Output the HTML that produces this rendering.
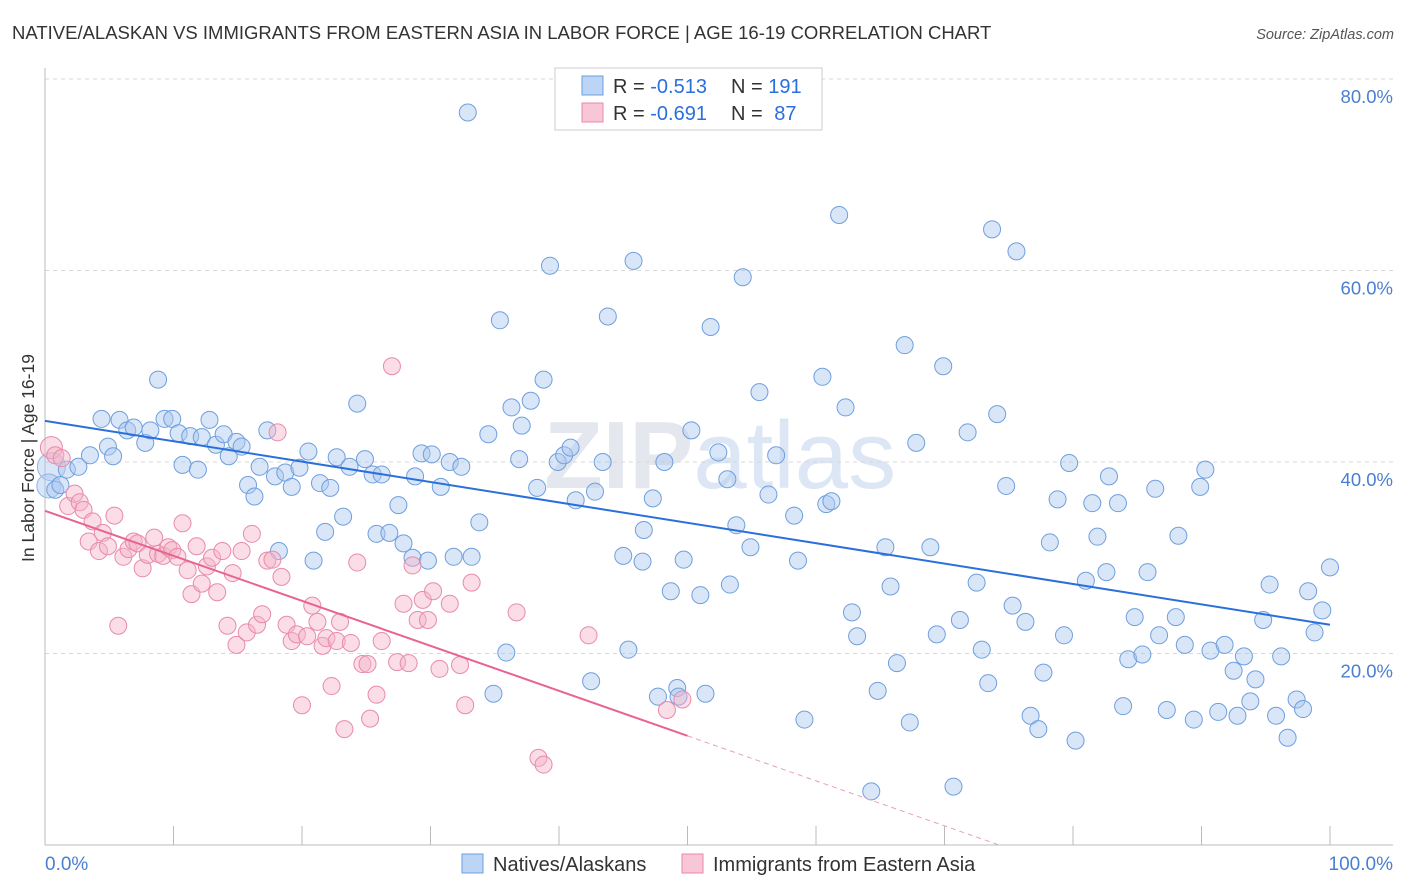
<!DOCTYPE html>
<html><head><meta charset="utf-8"><style>
body{margin:0;background:#fff;font-family:"Liberation Sans",sans-serif;}
svg{display:block}
</style></head><body>
<svg id="chart" width="1406" height="892" xmlns="http://www.w3.org/2000/svg">
<text x="12" y="39" font-size="18.5" fill="#333">NATIVE/ALASKAN VS IMMIGRANTS FROM EASTERN ASIA IN LABOR FORCE | AGE 16-19 CORRELATION CHART</text>
<text x="1394" y="39" font-size="14.5" fill="#555" font-style="italic" text-anchor="end">Source: ZipAtlas.com</text>
<text x="720" y="488" font-size="96" fill="#e4e8ee" text-anchor="middle" font-weight="bold">ZIP<tspan font-weight="normal" fill="#dce6f4">atlas</tspan></text>
<g id="grid"></g><g id="axes"></g><g id="marks"></g><g id="lines"></g>
<text transform="translate(34,458) rotate(-90)" font-size="17.5" fill="#333" text-anchor="middle">In Labor Force | Age 16-19</text>
<text x="45" y="870" font-size="19" fill="#4a7fd0">0.0%</text>
<text x="1393" y="870" font-size="19" fill="#4a7fd0" text-anchor="end">100.0%</text>
<g>
<rect x="555" y="68" width="267" height="62" fill="#fff" stroke="#ccc"/>
<rect x="582" y="76" width="21" height="19" fill="#bcd4f5" stroke="#6b9fde"/>
<rect x="582" y="103" width="21" height="19" fill="#f8c6d6" stroke="#e88aab"/>
<text x="613" y="93" font-size="20" fill="#333">R = <tspan fill="#2a6fdb">-0.513</tspan><tspan x="731">N = </tspan><tspan fill="#2a6fdb">191</tspan></text>
<text x="613" y="120" font-size="20" fill="#333">R = <tspan fill="#2a6fdb">-0.691</tspan><tspan x="731">N = </tspan><tspan fill="#2a6fdb" dx="6">87</tspan></text>
</g>
<g>
<rect x="462" y="854" width="21" height="19" fill="#bcd4f5" stroke="#6b9fde"/>
<text x="493" y="871" font-size="20" fill="#333">Natives/Alaskans</text>
<rect x="682" y="854" width="21" height="19" fill="#f8c6d6" stroke="#e88aab"/>
<text x="713" y="871" font-size="20" fill="#333">Immigrants from Eastern Asia</text>
</g>
</svg>
<script>
const yTicks=[20,40,60,80];
const yTickLabels=["20.0%","40.0%","60.0%","80.0%"];
const xTicks=[0,10,20,30,40,50,60,70,80,90,100];
const blueX=[32.9,0.8,1.2,1.7,2.6,3.5,4.4,4.9,5.3,5.8,6.4,6.9,7.8,8.2,8.8,9.3,9.9,10.4,10.7,11.3,11.9,12.2,12.8,13.3,13.9,14.3,14.9,15.3,15.8,16.3,16.7,17.3,17.9,18.2,18.7,19.2,19.8,20.5,20.9,21.4,22.2,21.8,22.7,23.2,23.7,24.3,24.9,25.5,25.8,26.2,26.8,27.5,27.9,28.6,28.8,29.3,29.8,30.1,30.8,31.5,31.8,32.4,33.2,33.8,34.5,34.9,35.4,35.9,36.3,36.9,37.1,37.8,38.3,38.8,39.3,39.9,40.4,40.9,41.3,42.5,42.8,43.4,43.8,45.0,45.4,45.8,46.6,46.5,47.3,47.7,48.2,48.7,49.2,49.3,49.7,50.3,51.0,51.4,51.8,52.4,53.1,53.3,53.8,54.3,54.9,55.6,56.3,56.9,58.6,58.3,59.1,60.5,60.8,61.2,61.8,62.3,62.8,63.2,64.3,64.8,65.4,65.8,66.3,66.9,67.3,67.8,68.9,69.4,69.9,70.7,71.2,71.8,72.5,72.9,73.4,73.7,74.1,74.8,75.3,75.6,76.3,76.7,77.3,77.7,78.2,78.8,79.3,79.7,80.2,81.0,81.5,81.9,82.6,82.8,83.5,83.9,84.3,84.8,85.4,85.8,86.4,86.7,87.3,88.0,88.2,88.7,89.4,89.9,90.3,90.7,91.3,91.8,92.5,92.8,93.3,93.8,94.2,94.8,95.3,95.8,96.2,96.7,97.4,97.9,98.3,98.8,99.4,100];
const blueY=[76.5,37.1,37.6,39.2,39.5,40.7,44.5,41.6,40.6,44.4,43.3,43.6,42.0,43.3,48.6,44.5,44.5,43.0,39.7,42.7,39.2,42.6,44.4,41.8,42.9,40.6,42.1,41.6,37.6,36.4,39.5,43.3,38.5,30.7,38.9,37.4,39.4,41.1,29.7,37.8,37.3,32.7,40.5,34.3,39.5,46.1,40.3,38.7,32.5,38.7,32.6,35.5,31.5,30.0,38.5,40.9,29.7,40.8,37.4,40.0,30.1,39.5,30.1,33.7,42.9,15.8,54.8,20.1,45.7,40.3,43.8,46.4,37.3,48.6,60.5,40.0,40.7,41.5,36.0,17.1,36.9,40.0,55.2,30.2,20.4,61.0,32.9,29.6,36.2,15.5,40.0,26.5,16.4,15.5,29.8,43.3,26.1,15.8,54.1,41.0,38.2,27.2,33.4,59.3,31.1,47.3,36.6,40.7,29.7,34.4,13.1,48.9,35.6,35.9,65.8,45.7,24.3,21.8,5.6,16.1,31.1,27.0,19.0,52.2,12.8,42.0,31.1,22.0,50.0,6.1,23.5,43.1,27.4,20.4,16.9,64.3,45.0,37.5,25.0,62.0,23.3,13.5,12.1,18.0,31.6,36.1,21.9,39.9,10.9,27.6,35.7,32.2,28.5,38.5,35.7,14.5,19.4,23.8,19.9,28.5,37.2,21.9,14.1,23.8,32.3,20.9,13.1,37.4,39.2,20.3,13.9,20.9,18.2,13.5,19.7,15.0,17.3,23.5,27.2,13.5,19.7,11.2,15.2,14.2,26.5,22.2,24.5,29.0];
const pinkX=[0.5,0.8,1.3,1.8,2.3,2.7,3.0,3.4,3.7,4.2,4.5,4.9,5.4,5.7,6.1,6.5,6.9,7.2,7.6,8.0,8.5,8.8,9.2,9.6,9.9,10.3,10.7,11.1,11.4,11.8,12.2,12.6,13.0,13.4,13.8,14.2,14.6,14.9,15.3,15.7,16.1,16.5,16.9,17.3,17.7,18.1,18.4,18.8,19.2,19.6,20.0,20.4,20.8,21.2,21.6,21.9,22.3,22.7,22.96,23.3,23.8,24.3,24.7,25.1,25.3,25.8,26.2,27.0,27.4,27.9,28.3,28.6,29.0,29.4,29.8,30.2,30.7,31.5,32.3,32.7,33.2,36.7,38.4,38.8,42.3,48.4,49.6];
const pinkY=[41.5,40.7,40.4,35.4,36.7,35.8,35.0,31.7,33.8,30.7,32.6,31.2,34.4,22.9,30.1,30.9,31.7,31.5,28.9,30.3,32.1,30.4,30.2,31.1,30.8,30.1,33.6,28.7,26.2,31.2,27.3,29.1,30.0,26.4,30.7,22.9,28.4,20.9,30.7,22.2,32.5,23.0,24.1,29.7,29.8,43.1,28.0,23.0,21.3,22.0,14.6,21.8,25.0,23.3,20.8,21.6,16.6,21.3,23.3,12.1,21.1,29.5,18.9,18.9,13.2,15.7,21.3,50.0,19.1,25.2,19.0,29.2,23.5,25.6,23.5,26.5,18.4,25.2,18.8,14.6,27.4,24.3,9.1,8.4,21.9,14.1,15.2];
const blueFit=[44.3,23.0];
const pinkFit=[34.9,-12.1];
const NS="http://www.w3.org/2000/svg";
const X0=45,X1=1330,YB=845,YT=79;
function sx(v){return X0+(X1-X0)*v/100;}
function sy(v){return YB-(YB-YT)*v/80;}
function mk(tag,attrs,parent){const e=document.createElementNS(NS,tag);for(const k in attrs)e.setAttribute(k,attrs[k]);parent.appendChild(e);return e;}
const grid=document.getElementById('grid'),axes=document.getElementById('axes'),marks=document.getElementById('marks'),lines=document.getElementById('lines');
yTicks.forEach((t,i)=>{
 const l=mk('line',{x1:45,x2:1393,y1:sy(t),y2:sy(t),stroke:'#d8d8d8','stroke-dasharray':'4,4'},grid);
 
 
 const tx=mk('text',{x:1393,y:sy(t)+24,'font-size':18.5,fill:'#4a7fd0','text-anchor':'end'},grid);
 tx.textContent=yTickLabels[i];
 
 
});
const xa=mk('line',{x1:45,x2:1393,y1:845,y2:845,stroke:'#bbb'},axes);


const ya=mk('line',{x1:45,x2:45,y1:68,y2:845,stroke:'#bbb'},axes);


xTicks.forEach(t=>{
 const l=mk('line',{x1:sx(t),x2:sx(t),y1:826,y2:845,stroke:'#bbb'},axes);
 
 
});
[[0.5,39.5,14],[0.3,37.5,12]].forEach(c=>{
 const e=mk('circle',{cx:sx(c[0]),cy:sy(c[1]),r:c[2],fill:'rgba(170,200,240,0.45)',stroke:'#8fb4e6','stroke-width':1},marks);
 
 
});
blueX.forEach((v,i)=>{
 const e=mk('circle',{cx:sx(v),cy:sy(blueY[i]),r:8.5,fill:'rgba(170,200,240,0.45)',stroke:'#6f9fde','stroke-width':1},marks);
 
 
});
pinkX.forEach((v,i)=>{
 const e=mk('circle',{cx:sx(v),cy:sy(pinkY[i]),r:i==0?11:8.5,fill:'rgba(245,180,200,0.45)',stroke:'#e98aab','stroke-width':1},marks);
 
 
});
const bl=mk('line',{x1:sx(0),y1:sy(blueFit[0]),x2:sx(100),y2:sy(blueFit[1]),stroke:'#2a6fdb','stroke-width':2},lines);


function py(x){return pinkFit[0]+(pinkFit[1]-pinkFit[0])*x/100;}
const pl=mk('line',{x1:sx(0),y1:sy(py(0)),x2:sx(50),y2:sy(py(50)),stroke:'#e8648f','stroke-width':2},lines);


const xz=pinkFit[0]/(pinkFit[0]-pinkFit[1])*100;
const pd=mk('line',{x1:sx(50),y1:sy(py(50)),x2:sx(xz),y2:sy(0),stroke:'#e8a0b8','stroke-width':1,'stroke-dasharray':'5,4'},lines);


</script>
</body></html>
